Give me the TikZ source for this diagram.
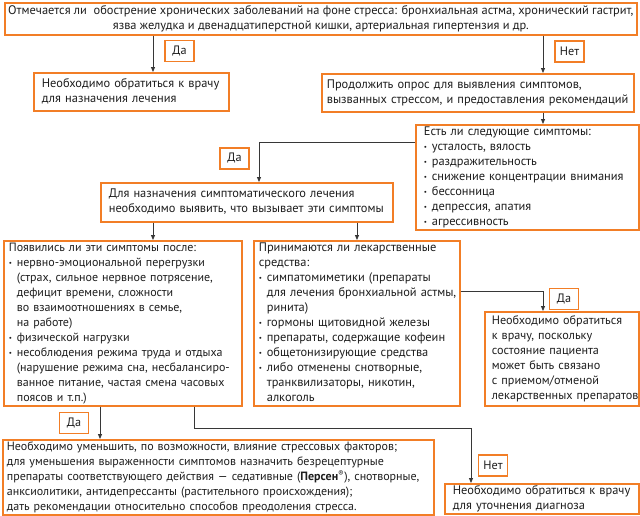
\documentclass[tikz,border=0pt]{standalone}
\usepackage{fontspec}
\setmainfont{PT Sans}
\usetikzlibrary{arrows.meta}
\definecolor{orangeA}{RGB}{242,126,38}
\definecolor{lineA}{RGB}{55,55,55}
\definecolor{textA}{RGB}{30,30,30}
\newcommand{\bl}{\makebox[8pt][l]{\raisebox{0.5pt}{\scriptsize •}}}
\newcommand{\ind}{\hspace*{8pt}}
\newcommand{\tl}[1]{\noindent\begin{tabular}{@{}l@{}}#1\end{tabular}}
\newcommand{\tc}[1]{\begin{tabular}{@{}c@{}}#1\end{tabular}}
\begin{document}
\begin{tikzpicture}[x=1pt,y=-1pt,
  boxA/.style={draw=orangeA, line width=1.7pt, fill=white, inner sep=0pt, anchor=north west,
    align=left, text=textA, font=\fontsize{12.4}{15}\selectfont},
  smallA/.style={font=\fontsize{12}{15}\selectfont},
  labA/.style={draw=orangeA, line width=1.7pt, fill=white, inner xsep=5pt, inner ysep=0pt,
    minimum height=21pt, minimum width=29pt, text=textA, font=\fontsize{12.2}{15}\selectfont},
  arr/.style={draw=lineA, line width=0.8pt, -{Triangle[length=5pt,width=4pt]}}]
\useasboundingbox (0,0) rectangle (640,515);
\fill[white] (0,0) rectangle (640,515);

\node[boxA, minimum width=632pt, minimum height=32pt, align=center] (b1) at (4,2)
 {\tc{Отмечается ли\ \ обострение хронических заболеваний на фоне стресса: бронхиальная астма, хронический гастрит,\\язва желудка и двенадцатиперстной кишки, артериальная гипертензия и др.}};

\node[boxA, minimum width=195pt, minimum height=38pt, text width=179pt] (b2) at (33,72)
 {\tl{Необходимо обратиться к врачу\\для назначения лечения}};

\node[boxA, minimum width=312pt, minimum height=38pt, text width=302pt] (b3) at (321,73)
 {\tl{Продолжить опрос для выявления симптомов,\\вызванных стрессом, и предоставления рекомендаций}};

\node[boxA, minimum width=223pt, minimum height=104pt, text width=207pt] (b4) at (415,124)
 {\tl{Есть ли следующие симптомы:\\\bl усталость, вялость\\\bl раздражительность\\\bl снижение концентрации внимания\\\bl бессонница\\\bl депрессия, апатия\\\bl агрессивность}};

\node[boxA, minimum width=292pt, minimum height=39pt, text width=276pt] (b5) at (100,182)
 {\tl{Для назначения симптоматического лечения\\необходимо выявить, что вызывает эти симптомы}};

\node[boxA, smallA, minimum width=238pt, minimum height=165pt, text width=228pt] (b6) at (3,240)
 {\tl{Появились ли эти симптомы после:\\\bl нервно-эмоциональной перегрузки\\\ind(страх, сильное нервное потрясение,\\\ind дефицит времени, сложности\\\ind во взаимоотношениях в семье,\\\ind на работе)\\\bl физической нагрузки\\\bl несоблюдения режима труда и отдыха\\\ind(нарушение режима сна, несбалансиро-\\\ind ванное питание, частая смена часовых\\\ind поясов и т.п.)}};

\node[boxA, minimum width=206pt, minimum height=165pt, text width=196pt] (b7) at (253,240)
 {\tl{Принимаются ли лекарственные\\средства:\\\bl симпатомиметики (препараты\\\ind для лечения бронхиальной астмы,\\\ind ринита)\\\bl гормоны щитовидной железы\\\bl препараты, содержащие кофеин\\\bl общетонизирующие средства\\\bl либо отменены снотворные,\\\ind транквилизаторы, никотин,\\\ind алкоголь}};

\node[boxA, font=\fontsize{12.2}{15}\selectfont, minimum width=154pt, minimum height=94pt, text width=140pt] (b8) at (484,311)
 {\tl{Необходимо обратиться\\к врачу, поскольку\\состояние пациента\\может быть связано\\с приемом/отменой\\лекарственных препаратов}};

\node[boxA, smallA, minimum width=431pt, minimum height=74pt, text width=423pt] (b9) at (2,439)
 {\tl{Необходимо уменьшить, по возможности, влияние стрессовых факторов;\\для уменьшения выраженности симптомов назначить безрецептурные\\препараты соответствующего действия — седативные (\textbf{Персен}\textsuperscript{®}), снотворные,\\анксиолитики, антидепрессанты (растительного происхождения);\\дать рекомендации относительно способов преодоления стресса.}};

\node[boxA, minimum width=194pt, minimum height=30pt, text width=178pt] (b10) at (444,483)
 {\tl{Необходимо обратиться к врачу\\для уточнения диагноза}};

% labels
\node[labA] (l1) at (179.5,51) {Да};
\node[labA] (l2) at (569.5,51.5) {Нет};
\node[labA] (l3) at (234.5,158.5) {Да};
\node[labA] (l4) at (564,299) {Да};
\node[labA] (l5) at (74,423) {Да};
\node[labA] (l6) at (493,465.5) {Нет};

% connector guides
\coordinate (xa) at (153,0);
\coordinate (xb) at (543,0);
\coordinate (xc) at (259,0);
\coordinate (xd) at (357,0);
\coordinate (xe) at (100,0);
\coordinate (xf) at (194,0);
\coordinate (xg) at (471,0);
\coordinate (ya) at (0,142);
\coordinate (yb) at (0,291);
\coordinate (yc) at (0,428);

\draw[arr] (b1.south -| xa) -- (b2.north -| xa);
\draw[arr] (b1.south -| xb) -- (b3.north -| xb);
\draw[arr] (b3.south -| xb) -- (b4.north -| xb);
\draw[arr] (b4.west |- ya) -- (xc |- ya) -- (b5.north -| xc);
\draw[arr] (b5.south -| xa) -- (b6.north -| xa);
\draw[arr] (b5.south -| xd) -- (b7.north -| xd);
\draw[arr] (b7.east |- yb) -- (xb |- yb) -- (b8.north -| xb);
\draw[arr] (b6.south -| xe) -- (b9.north -| xe);
\draw[arr] (b6.south -| xf) -- (xf |- yc) -- (xg |- yc) -- (b10.north -| xg);
\end{tikzpicture}
\end{document}
